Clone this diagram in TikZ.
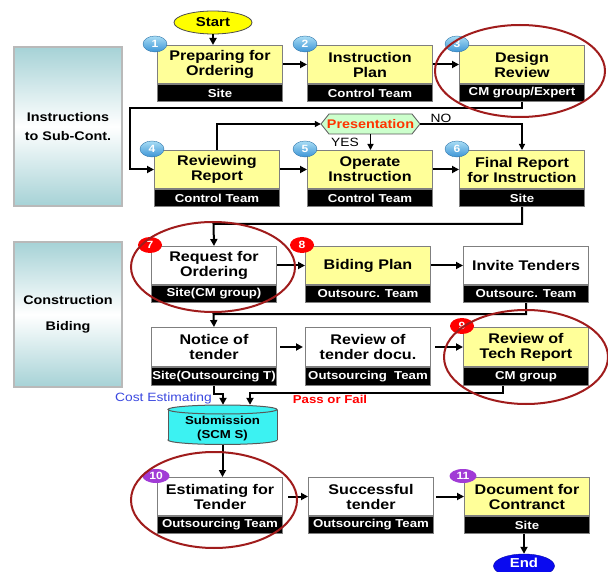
\documentclass[tikz,border=0pt]{standalone}
\usepackage{fontspec}
\setmainfont{Liberation Sans}[FakeStretch=1.15]
\usetikzlibrary{arrows.meta,shapes.geometric,calc}
\definecolor{boxyellow}{HTML}{FFFF99}
\definecolor{boxgray}{HTML}{7F7F7F}
\definecolor{ringred}{HTML}{A01C1C}
\definecolor{panelc}{HTML}{A6D2D6}
\definecolor{cylc}{HTML}{3CF2F2}
\definecolor{presred}{HTML}{FF3300}
\definecolor{hexgreen}{HTML}{CCFFCC}
\definecolor{costblue}{HTML}{3A48E0}
\definecolor{badgeblue}{HTML}{3D95D6}
\definecolor{badgelight}{HTML}{A8DDF5}
\definecolor{badgepurple}{HTML}{A13BD6}
\definecolor{endblue}{HTML}{0A0AF0}
\definecolor{startyellow}{HTML}{FFFF00}
\tikzset{
 mainbox/.style={draw=boxgray, line width=1pt, minimum width=125pt, inner sep=1pt, align=center, font=\fontsize{14}{15}\selectfont\bfseries},
 bandbox/.style={draw=boxgray, fill=black, line width=1pt, minimum width=125pt, inner sep=0pt, text=white, font=\fontsize{11.5}{12}\selectfont\bfseries},
 badge/.style={ellipse, minimum width=24pt, minimum height=16pt, inner sep=0pt, text=white, font=\fontsize{10.5}{10.5}\selectfont\bfseries},
 bluebadge/.style={badge, top color=badgelight, bottom color=badgeblue, draw=badgeblue!80!black, line width=0.4pt},
 redbadge/.style={badge, fill=red},
 purplebadge/.style={badge, fill=badgepurple},
 conn/.style={line width=2pt, -{Triangle[length=7pt,width=7pt]}},
 thinconn/.style={line width=1.2pt, -{Triangle[length=6pt,width=6pt]}},
 redring/.style={draw=ringred, line width=2pt},
 panel/.style={top color=panelc, bottom color=panelc, middle color=white, draw=gray!55, line width=1.5pt, minimum width=108pt, align=center, font=\fontsize{12.5}{19}\selectfont\bfseries},
 lbl/.style={inner sep=0pt, font=\fontsize{12}{12}\selectfont},
}
\newcommand\procbox[8]{%
 \node[mainbox, fill=#2, minimum height=#5pt, anchor=north west] (#1) at (#3,#4) {#7};
 \node[bandbox, minimum height=#6pt, anchor=north west] (#1b) at (#1.south west) {#8};
}
\begin{document}
\begin{tikzpicture}[x=1pt,y=-1pt]
\useasboundingbox (0,0) rectangle (608,572);
\fill[white] (0,0) rectangle (608,572);

% side panels
\node[panel, minimum height=159pt] (p1) at (68,126.5) {Instructions\\to Sub-Cont.};
\node[panel, minimum height=145pt, font=\fontsize{12.5}{26}\selectfont\bfseries] (p2) at (68,314.5) {Construction\\Biding};

% start
\node[ellipse, fill=startyellow, draw=gray!60!black, line width=0.8pt, minimum width=78pt, minimum height=23pt, inner sep=0pt, font=\fontsize{13}{13}\selectfont\bfseries] (st) at (213,22.5) {Start};

% boxes
\procbox{b1}{boxyellow}{157}{45}{38}{17}{Preparing for\\Ordering}{Site}
\procbox{b2}{boxyellow}{307}{45}{38}{17}{Instruction\\Plan}{Control Team}
\procbox{b3}{boxyellow}{459}{45}{38}{17}{Design\\Review}{CM group/Expert}
\procbox{b4}{boxyellow}{154}{150}{38}{17}{Reviewing\\Report}{Control Team}
\procbox{b5}{boxyellow}{307}{150}{38}{17}{Operate\\Instruction}{Control Team}
\procbox{b6}{boxyellow}{459}{150}{38}{17}{Final Report\\for Instruction}{Site}
\procbox{b7}{white}{151}{246}{38}{17}{Request for\\Ordering}{Site(CM group)}
\procbox{b8}{boxyellow}{305}{246}{38}{17}{Biding Plan}{Outsourc. Team}
\procbox{inv}{white}{463}{246}{38}{17}{Invite Tenders}{Outsourc. Team}
\procbox{notice}{white}{151}{327}{39}{18}{Notice of\\tender}{Site(Outsourcing T)}
\procbox{rdoc}{white}{305}{327}{39}{18}{Review of\\tender docu.}{Outsourcing\ \ Team}
\procbox{tech}{boxyellow}{463}{327}{39}{18}{Review of\\Tech Report}{CM group}
\procbox{est}{white}{157}{477}{38}{17}{Estimating for\\Tender}{Outsourcing Team}
\procbox{succ}{white}{308}{477}{38}{17}{Successful\\tender}{Outsourcing Team}
\procbox{doc}{boxyellow}{464}{477}{38}{17}{Document for\\Contranct}{Site}

% presentation hexagon
\draw[fill=hexgreen, draw=gray!70!black, line width=0.8pt] (321,124) -- (329,114) -- (412,114) -- (420,124) -- (412,134) -- (329,134) -- cycle;
\node[minimum width=99pt, minimum height=20pt, inner sep=0pt, text=presred, font=\fontsize{12.5}{12.5}\selectfont\bfseries] (hex) at (370.5,124) {Presentation};

% submission cylinder
\fill[cylc, draw=gray!70!black, line width=1pt] (222.5,440) ellipse [x radius=54.5, y radius=4.5];
\fill[cylc] (168,409.5) rectangle (277,440);
\draw[gray!70!black, line width=1pt] (168,409.5) -- (168,440) (277,409.5) -- (277,440);
\fill[cylc, draw=gray!70!black, line width=1pt] (222.5,409.5) ellipse [x radius=54.5, y radius=4.5];
\node[minimum width=109pt, minimum height=40pt, inner sep=0pt] (sub) at (222.5,425) {};
\node[align=center, inner sep=0pt, font=\fontsize{11.5}{14}\selectfont\bfseries] (subtext) at (222.5,428.5) {Submission\\(SCM S)};

% end
\node[ellipse, fill=endblue, draw=endblue!70!black, minimum width=61pt, minimum height=24pt, inner sep=0pt] (end) at (524,566) {};
\node[inner sep=0pt, text=white, font=\fontsize{13}{13}\selectfont\bfseries] (endtext) at (524,562.5) {End};

% connectors
\draw[conn] (st.south) -- (st.south |- b1.north);
\draw[conn] (b1) -- (b2);
\draw[conn] (b2) -- (b3);
\coordinate (l1) at (130,108);
\draw[conn] (b3b.south) |- (l1) |- (b4.west);
\draw[conn] (b4) -- (b5);
\draw[conn] (b5) -- (b6);
\draw[thinconn] (b4.north) |- (hex.west);
\draw[thinconn] (hex.south) -- (hex.south |- b5.north);
\draw[thinconn] (hex.east) -| (b6.north);
\coordinate (l2) at (213.5,224);
\draw[conn] (b6b.south) |- (l2) -- (b7.north);
\draw[conn] (b7) -- (b8);
\draw[conn] (b8) -- (inv);
\coordinate (l3) at (213.5,314);
\draw[conn] (invb.south) |- (l3) -- (notice.north);
\draw[conn, shorten <=3pt, shorten >=2pt] (notice) -- (rdoc);
\draw[conn, shorten <=4pt] (rdoc) -- (tech);
\coordinate (l4) at (223,394);
\draw[conn] (noticeb.south) |- (l4) -- (l4 |- sub.north);
\coordinate (l5) at (250,393);
\draw[conn] ([xshift=-23.5pt]techb.south) |- (l5) -- (l5 |- sub.north);
\draw[conn] (sub.south) -- (sub.south |- est.north);
\draw[conn, shorten <=5pt] (est) -- (succ);
\draw[conn, shorten <=2pt] (succ) -- (doc);
\draw[conn] (end.north |- docb.south) -- (end.north);

% labels
\node[lbl] (yes) at (345,142) {YES};
\node[lbl] (no) at (441,118) {NO};
\node[lbl, text=costblue, anchor=east] (ce) at (212,398) {Cost Estimating};
\node[lbl, text=red, font=\fontsize{11.5}{11.5}\selectfont\bfseries] (pf) at (330,399) {Pass or Fail};

% badges
\node[bluebadge] (n1) at ([shift={(-2,-1)}]b1.north west) {1};
\node[bluebadge] (n2) at ([shift={(-2,-1)}]b2.north west) {2};
\node[bluebadge] (n3) at ([shift={(-2,-1)}]b3.north west) {3};
\node[bluebadge] (n4) at ([shift={(-2,-1)}]b4.north west) {4};
\node[bluebadge] (n5) at ([shift={(-2,-1)}]b5.north west) {5};
\node[bluebadge] (n6) at ([shift={(-2,-1)}]b6.north west) {6};
\node[redbadge] (n7) at ([shift={(-1,-1)}]b7.north west) {7};
\node[redbadge] (n8) at ([shift={(-3,-1)}]b8.north west) {8};
\node[redbadge] (n9) at ([shift={(-1,-1)}]tech.north west) {9};
\node[purplebadge, minimum width=27pt, minimum height=14pt] (n10) at ([shift={(-1,-1)}]est.north west) {10};
\node[purplebadge, minimum width=27pt, minimum height=14pt] (n11) at ([shift={(-1,-1)}]doc.north west) {11};

% highlight rings
\draw[redring] (520,71) ellipse [x radius=85, y radius=46];
\draw[redring] (213,267) ellipse [x radius=82, y radius=45];
\draw[redring] (526,357) ellipse [x radius=82, y radius=47];
\draw[redring] (214,500) ellipse [x radius=83, y radius=48];
\end{tikzpicture}
\end{document}
